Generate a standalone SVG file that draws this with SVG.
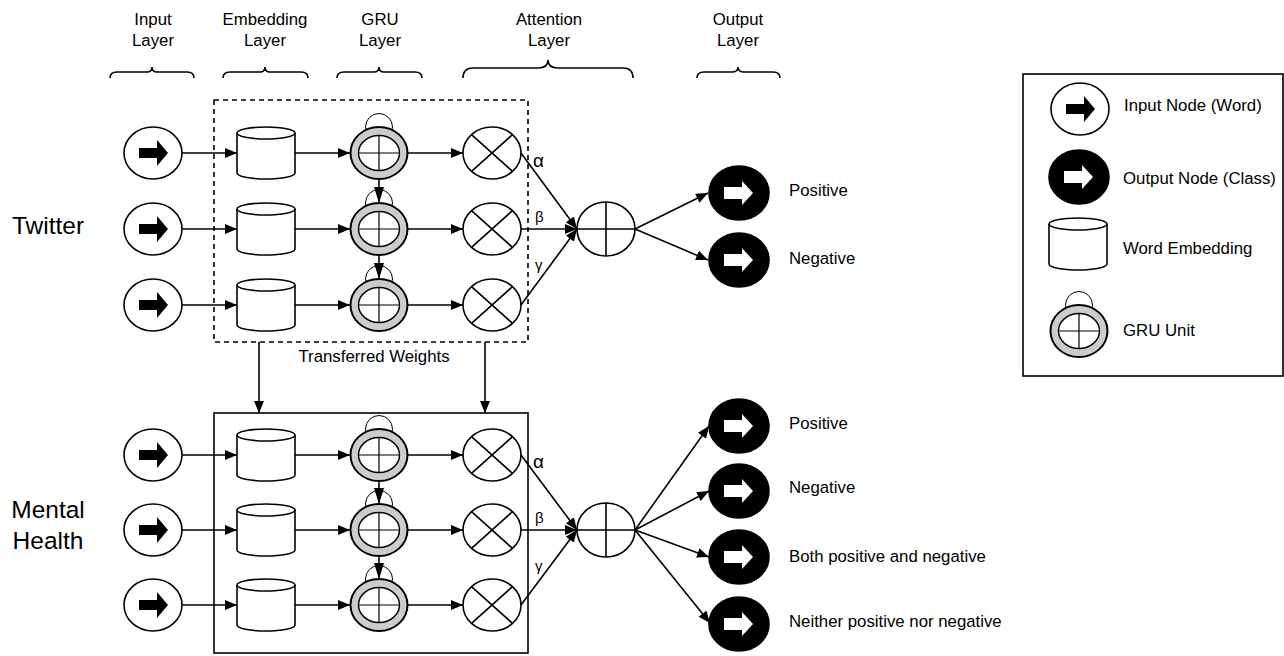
<svg xmlns="http://www.w3.org/2000/svg" xmlns:xlink="http://www.w3.org/1999/xlink" width="1284" height="656" viewBox="0 0 1284 656">
<style>
text{font-family:"Liberation Sans",Arial,sans-serif;fill:#000}
.hd{font-size:16.8px;text-anchor:middle}
.lb{font-size:16.8px}
.big{font-size:24.5px;text-anchor:middle}
.e{stroke:#000;stroke-width:1.6;fill:none}
.br{stroke:#000;stroke-width:1.6;fill:none}
</style>
<defs>
<marker id="ah" viewBox="0 0 12 10" refX="12" refY="5" markerWidth="12" markerHeight="10" markerUnits="userSpaceOnUse" orient="auto">
<path d="M0,0 L12,5 L0,10 z" fill="#000"/>
</marker>
<marker id="ahv" viewBox="0 0 16 10" refX="16" refY="5" markerWidth="16" markerHeight="10" markerUnits="userSpaceOnUse" orient="auto">
<path d="M0,0 L16,5 L0,10 z" fill="#000"/>
</marker>
<g id="inNode">
<ellipse cx="0" cy="0" rx="29" ry="26" fill="#fff" stroke="#000" stroke-width="1.6"/>
<path d="M-14,-5 h18 v-8 l11,13 l-11,13 v-8 h-18 z" fill="#000"/>
</g>
<g id="outNode">
<ellipse cx="0" cy="0" rx="30" ry="27" fill="#000" stroke="#000" stroke-width="1.6"/>
<path d="M-15,-6 h18 v-6 l11,12 l-11,12 v-6 h-18 z" fill="#fff"/>
</g>
<g id="cyl">
<path d="M-29,-20 a29,6 0 0 1 58,0 v40 a29,6 0 0 1 -58,0 z" fill="#fff" stroke="#000" stroke-width="1.6"/>
<path d="M-29,-20 a29,6 0 0 0 58,0" fill="none" stroke="#000" stroke-width="1.6"/>
</g>
<g id="gru">
<circle cx="0" cy="-26" r="13.5" fill="#fff" stroke="#000" stroke-width="1"/>
<ellipse cx="0" cy="0" rx="28.5" ry="26" fill="#cccccc" stroke="#000" stroke-width="2"/>
<ellipse cx="0" cy="0" rx="20.5" ry="17.5" fill="#fff" stroke="#000" stroke-width="1.4"/>
<path d="M-20.5,0 H20.5 M0,-17.5 V17.5" stroke="#000" stroke-width="1.2"/>
</g>
<g id="mul">
<ellipse cx="0" cy="0" rx="29" ry="26" fill="#fff" stroke="#000" stroke-width="1.6"/>
<path d="M-20.5,-18.4 L20.5,18.4 M20.5,-18.4 L-20.5,18.4" stroke="#000" stroke-width="1.6"/>
</g>
<g id="sum">
<ellipse cx="0" cy="0" rx="29" ry="27" fill="#fff" stroke="#000" stroke-width="1.6"/>
<path d="M-29,0 H29 M0,-27 V27" stroke="#000" stroke-width="1.6"/>
</g>
</defs>
<rect width="1284" height="656" fill="#fff"/>

<g id="headers">
<text class="hd" x="153" y="25">Input</text><text class="hd" x="153" y="46">Layer</text>
<text class="hd" x="265" y="25">Embedding</text><text class="hd" x="265" y="46">Layer</text>
<text class="hd" x="380" y="25">GRU</text><text class="hd" x="380" y="46">Layer</text>
<text class="hd" x="549" y="25">Attention</text><text class="hd" x="549" y="46">Layer</text>
<text class="hd" x="738" y="25">Output</text><text class="hd" x="738" y="46">Layer</text>
<path class="br" d="M110,78 Q110,72 117,72 H147 Q152,72 152,67 Q152,72 157,72 H187 Q194,72 194,78"/>
<path class="br" d="M223,78 Q223,72 230,72 H260 Q265,72 265,67 Q265,72 270,72 H301 Q308,72 308,78"/>
<path class="br" d="M337,78 Q337,72 344,72 H374 Q379,72 379,67 Q379,72 384,72 H415 Q422,72 422,78"/>
<path class="br" d="M463,78 Q463,68 473,68 H538 Q548,68 548,60 Q548,68 558,68 H623 Q633,68 633,78"/>
<path class="br" d="M697,78 Q697,72 704,72 H732 Q738,72 738,67 Q738,72 744,72 H773 Q780,72 780,78"/>
</g>

<g id="sideLabels">
<text class="big" x="48" y="234">Twitter</text>
<text class="big" x="48" y="518">Mental</text>
<text class="big" x="48" y="549">Health</text>
</g>

<rect id="twitterBox" x="214" y="100" width="314" height="242" fill="none" stroke="#000" stroke-width="1.6" stroke-dasharray="5,4"/>
<rect id="mentalBox" x="214" y="413" width="314" height="240" fill="none" stroke="#000" stroke-width="1.6"/>

<!-- Twitter nodes -->
<g id="tw_in1"><use xlink:href="#inNode" x="153" y="153"/></g>
<g id="tw_in2"><use xlink:href="#inNode" x="153" y="229"/></g>
<g id="tw_in3"><use xlink:href="#inNode" x="153" y="305"/></g>
<g id="tw_emb1"><use xlink:href="#cyl" x="266" y="153"/></g>
<g id="tw_emb2"><use xlink:href="#cyl" x="266" y="229"/></g>
<g id="tw_emb3"><use xlink:href="#cyl" x="266" y="305"/></g>
<g id="tw_gru1"><use xlink:href="#gru" x="379" y="153"/></g>
<g id="tw_gru2"><use xlink:href="#gru" x="379" y="229"/></g>
<g id="tw_gru3"><use xlink:href="#gru" x="379" y="305"/></g>
<g id="tw_att1"><use xlink:href="#mul" x="492" y="153"/></g>
<g id="tw_att2"><use xlink:href="#mul" x="492" y="229"/></g>
<g id="tw_att3"><use xlink:href="#mul" x="492" y="305"/></g>
<g id="tw_sum"><use xlink:href="#sum" x="606" y="229"/></g>
<g id="tw_out1"><use xlink:href="#outNode" x="739" y="193"/><text class="lb" x="789" y="196">Positive</text></g>
<g id="tw_out2"><use xlink:href="#outNode" x="739" y="260"/><text class="lb" x="789" y="264">Negative</text></g>

<!-- Mental health nodes -->
<g id="mh_in1"><use xlink:href="#inNode" x="153" y="455"/></g>
<g id="mh_in2"><use xlink:href="#inNode" x="153" y="530"/></g>
<g id="mh_in3"><use xlink:href="#inNode" x="153" y="605"/></g>
<g id="mh_emb1"><use xlink:href="#cyl" x="266" y="455"/></g>
<g id="mh_emb2"><use xlink:href="#cyl" x="266" y="530"/></g>
<g id="mh_emb3"><use xlink:href="#cyl" x="266" y="605"/></g>
<g id="mh_gru1"><use xlink:href="#gru" x="379" y="455"/></g>
<g id="mh_gru2"><use xlink:href="#gru" x="379" y="530"/></g>
<g id="mh_gru3"><use xlink:href="#gru" x="379" y="605"/></g>
<g id="mh_att1"><use xlink:href="#mul" x="492" y="455"/></g>
<g id="mh_att2"><use xlink:href="#mul" x="492" y="530"/></g>
<g id="mh_att3"><use xlink:href="#mul" x="492" y="605"/></g>
<g id="mh_sum"><use xlink:href="#sum" x="606" y="530"/></g>
<g id="mh_out1"><use xlink:href="#outNode" x="739" y="426"/><text class="lb" x="789" y="429">Positive</text></g>
<g id="mh_out2"><use xlink:href="#outNode" x="739" y="491"/><text class="lb" x="789" y="493">Negative</text></g>
<g id="mh_out3"><use xlink:href="#outNode" x="739" y="557"/><text class="lb" x="789" y="562">Both positive and negative</text></g>
<g id="mh_out4"><use xlink:href="#outNode" x="739" y="624"/><text class="lb" x="789" y="627">Neither positive nor negative</text></g>

<!-- connectors -->
<g id="connectors" class="e" marker-end="url(#ah)">
<path d="M182,153 H237"/><path d="M295,153 H350"/><path d="M408,153 H463"/>
<path d="M182,229 H237"/><path d="M295,229 H350"/><path d="M408,229 H463"/>
<path d="M182,305 H237"/><path d="M295,305 H350"/><path d="M408,305 H463"/>
<path d="M379,179 V203" marker-end="url(#ahv)"/><path d="M379,255 V279" marker-end="url(#ahv)"/>
<path d="M521,153 L577,229"/><path d="M521,229 H577"/><path d="M521,305 L577,229"/>
<path d="M635,229 L708,193"/><path d="M635,229 L708,260"/>
<path d="M259,342 V413"/><path d="M485,342 V413"/>
<path d="M182,455 H237"/><path d="M295,455 H350"/><path d="M408,455 H463"/>
<path d="M182,530 H237"/><path d="M295,530 H350"/><path d="M408,530 H463"/>
<path d="M182,605 H237"/><path d="M295,605 H350"/><path d="M408,605 H463"/>
<path d="M379,481 V504" marker-end="url(#ahv)"/><path d="M379,556 V579" marker-end="url(#ahv)"/>
<path d="M521,455 L577,530"/><path d="M521,530 H577"/><path d="M521,605 L577,530"/>
<path d="M635,530 L709,426"/><path d="M635,530 L709,491"/><path d="M635,530 L709,557"/><path d="M635,530 L710,623"/>
</g>

<g id="edgeLabels">
<text x="533" y="167" font-size="19">α</text>
<text x="535" y="222" font-size="15">β</text>
<text x="535" y="270" font-size="15">γ</text>
<text x="533" y="468" font-size="19">α</text>
<text x="535" y="523" font-size="15">β</text>
<text x="535" y="571" font-size="15">γ</text>
<text class="hd" x="374" y="362">Transferred Weights</text>
</g>

<g id="legend">
<rect x="1023" y="74" width="260" height="302" fill="#fff" stroke="#000" stroke-width="1.6"/>
<use xlink:href="#inNode" x="1080" y="109"/>
<text class="lb" x="1124" y="111">Input Node (Word)</text>
<use xlink:href="#outNode" x="1079" y="177"/>
<text class="lb" x="1123" y="184">Output Node (Class)</text>
<use xlink:href="#cyl" x="1078" y="244"/>
<text class="lb" x="1123" y="254">Word Embedding</text>
<use xlink:href="#gru" x="1079" y="331"/>
<text class="lb" x="1123" y="336">GRU Unit</text>
</g>
</svg>
